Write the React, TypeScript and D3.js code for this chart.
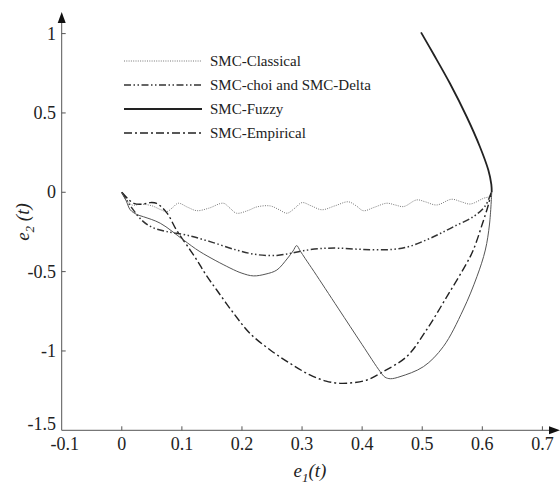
import * as d3 from "d3";

type Pt = [number, number];

const xTicks = [-0.1, 0, 0.1, 0.2, 0.3, 0.4, 0.5, 0.6, 0.7];
const yTicks = [-1.5, -1, -0.5, 0, 0.5, 1];

const classical: Pt[] = [
  [0, 0], [0.008, -0.045], [0.017, -0.08], [0.033, -0.075], [0.05, -0.085],
  [0.065, -0.11], [0.075, -0.122], [0.085, -0.095], [0.094, -0.069], [0.11, -0.095],
  [0.125, -0.116], [0.145, -0.1], [0.169, -0.069], [0.18, -0.1], [0.191, -0.132],
  [0.21, -0.115], [0.225, -0.092], [0.247, -0.086], [0.262, -0.11], [0.275, -0.132],
  [0.288, -0.1], [0.3, -0.065], [0.315, -0.085], [0.333, -0.11], [0.355, -0.085],
  [0.377, -0.06], [0.39, -0.085], [0.402, -0.116], [0.42, -0.095], [0.441, -0.069],
  [0.455, -0.08], [0.469, -0.09], [0.491, -0.048], [0.505, -0.06], [0.524, -0.08],
  [0.549, -0.044], [0.565, -0.06], [0.58, -0.074], [0.602, -0.038], [0.612, -0.025],
  [0.615, 0],
];

const choi: Pt[] = [
  [0, 0], [0.008, -0.05], [0.017, -0.1], [0.033, -0.175], [0.05, -0.22],
  [0.075, -0.248], [0.108, -0.27], [0.147, -0.311], [0.191, -0.364], [0.225, -0.393],
  [0.258, -0.398], [0.28, -0.385], [0.302, -0.368], [0.33, -0.355], [0.36, -0.352],
  [0.4, -0.36], [0.45, -0.36], [0.48, -0.34], [0.507, -0.3], [0.53, -0.26],
  [0.552, -0.217], [0.585, -0.154], [0.605, -0.085], [0.615, 0],
];

const fuzzyLoop: Pt[] = [
  [0, 0], [0.008, -0.06], [0.014, -0.11], [0.025, -0.14], [0.036, -0.154],
  [0.064, -0.195], [0.1025, -0.3], [0.13, -0.374], [0.18, -0.477], [0.2, -0.51],
  [0.219, -0.527], [0.24, -0.515], [0.258, -0.49], [0.275, -0.42], [0.285, -0.37],
  [0.291, -0.336], [0.297, -0.37], [0.305, -0.416], [0.32, -0.5], [0.36, -0.73],
  [0.4, -0.96], [0.43, -1.13], [0.438, -1.165], [0.447, -1.175], [0.463, -1.162],
  [0.502, -1.099], [0.535, -0.973], [0.568, -0.742], [0.591, -0.532], [0.605, -0.364],
  [0.612, -0.2], [0.6157, 0],
];

const fuzzyBranch: Pt[] = [
  [0.6157, 0], [0.615, 0.05], [0.61, 0.14], [0.596, 0.287], [0.574, 0.476],
  [0.546, 0.687], [0.518, 0.876], [0.498, 1.008],
];

const empirical: Pt[] = [
  [0, 0], [0.01, -0.04], [0.02, -0.07], [0.035, -0.075], [0.047, -0.065],
  [0.058, -0.07], [0.075, -0.13], [0.091, -0.238], [0.108, -0.332], [0.125, -0.427],
  [0.14, -0.52], [0.158, -0.616], [0.186, -0.762], [0.213, -0.888], [0.247, -0.994],
  [0.28, -1.078], [0.313, -1.151], [0.34, -1.19], [0.363, -1.204], [0.385, -1.2],
  [0.408, -1.183], [0.435, -1.13], [0.474, -1.036], [0.507, -0.868], [0.541, -0.658],
  [0.574, -0.447], [0.585, -0.364], [0.6, -0.2], [0.61, -0.08], [0.615, 0],
];

const legendNames = ["SMC-Classical", "SMC-choi and SMC-Delta", "SMC-Fuzzy", "SMC-Empirical"];

const styles = [
  { stroke: "#777", width: 1, dash: "1,1.3" },
  { stroke: "#333", width: 1.5, dash: "7,2.5,1.5,2.5,1.5,2.5" },
  { stroke: "#222", width: 2, dash: "" },
  { stroke: "#222", width: 1.4, dash: "8,3,2,3" },
];

const font = "'Liberation Serif', 'Times New Roman', Times, serif";

export default function App() {
  const width = 560;
  const height = 490;

  const x = d3.scaleLinear().domain([-0.1, 0.7]).range([61.7, 542.4]);
  const y = d3.scaleLinear().domain([-1.5, 1]).range([430.3, 33.6]);

  const line = d3
    .line<Pt>()
    .x((d) => x(d[0]))
    .y((d) => y(d[1]))
    .curve(d3.curveCatmullRom.alpha(0.5));

  const x0 = x(-0.1);
  const y0 = y(-1.5);
  const xEnd = x(0.7) + 17.6;
  const yTop = y(1) - 21.6;

  return (
    <svg
      width={width}
      height={height}
      style={{ position: "absolute", left: 0, top: 0, background: "#fff", fontFamily: font }}
    >
      {/* axes */}
      <line x1={x0} y1={y0} x2={xEnd - 8} y2={y0} stroke="#555" strokeWidth={1} />
      <line x1={x0} y1={y0} x2={x0} y2={yTop + 9} stroke="#555" strokeWidth={1} />
      <path d={`M${xEnd},${y0} L${xEnd - 11},${y0 - 4} L${xEnd - 11},${y0 + 4} Z`} fill="#111" />
      <path d={`M${x0},${yTop} L${x0 - 4},${yTop + 11} L${x0 + 4},${yTop + 11} Z`} fill="#111" />

      {xTicks.map((t) => (
        <g key={"x" + t}>
          {t > -0.1 && (
            <line x1={x(t)} x2={x(t)} y1={y0} y2={y0 - 4} stroke="#555" />
          )}
          <text x={x(t) + (t < 0 ? 3 : 0)} y={450} textAnchor="middle" fontSize={18} fill="#222" style={{ fontFamily: font }}>
            {t === 0 ? "0" : String(t)}
          </text>
        </g>
      ))}
      {yTicks.map((t) => (
        <g key={"y" + t}>
          {t > -1.5 && (
            <line x1={x0} x2={x0 + 4} y1={y(t)} y2={y(t)} stroke="#555" />
          )}
          <text x={56} y={y(t) + (t === -1.5 ? 0 : 6)} textAnchor="end" fontSize={18} fill="#222" style={{ fontFamily: font }}>
            {String(t)}
          </text>
        </g>
      ))}

      {/* axis titles */}
      <text
        transform={`translate(29,222) rotate(-90)`}
        textAnchor="middle"
        fontSize={19}
        fontStyle="italic"
        fill="#222"
        style={{ fontFamily: font }}
      >
        e<tspan fontSize={13} dy={5}>2</tspan>
        <tspan dy={-5}> (t)</tspan>
      </text>
      <text x={310} y={477} textAnchor="middle" fontSize={19} fontStyle="italic" fill="#222" style={{ fontFamily: font }}>
        e<tspan fontSize={13} dy={5}>1</tspan>
        <tspan dy={-5}>(t)</tspan>
      </text>

      {/* curves */}
      <path d={line(classical) ?? ""} fill="none" stroke="#777" strokeWidth={1} strokeDasharray="1,1.3" />
      <path d={line(choi) ?? ""} fill="none" stroke="#333" strokeWidth={1.5} strokeDasharray="7,2.5,1.5,2.5,1.5,2.5" />
      <path d={line(empirical) ?? ""} fill="none" stroke="#222" strokeWidth={1.4} strokeDasharray="8,3,2,3" />
      <path d={line(fuzzyLoop) ?? ""} fill="none" stroke="#555" strokeWidth={1} />
      <path d={line(fuzzyBranch) ?? ""} fill="none" stroke="#222" strokeWidth={1.8} />

      {/* legend */}
      {legendNames.map((name, i) => {
        const ly = 61 + i * 24;
        const s = styles[i];
        return (
          <g key={name}>
            <line
              x1={124}
              x2={202}
              y1={ly}
              y2={ly}
              stroke={s.stroke}
              strokeWidth={s.width}
              strokeDasharray={s.dash || undefined}
            />
            <text x={210} y={ly + 5} fontSize={15} fill="#222" style={{ fontFamily: font }}>
              {name}
            </text>
          </g>
        );
      })}
    </svg>
  );
}
